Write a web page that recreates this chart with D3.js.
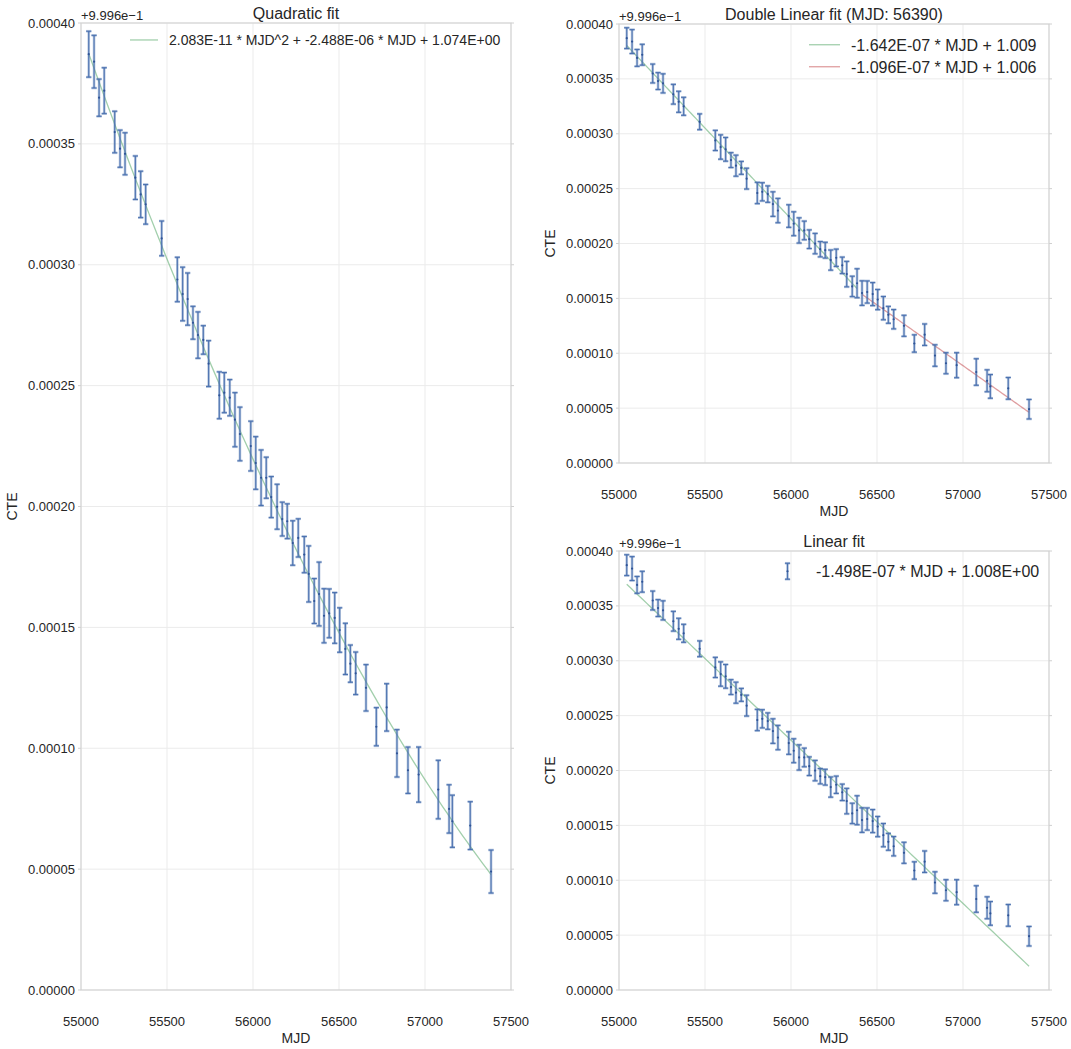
<!DOCTYPE html>
<html>
<head>
<meta charset="utf-8">
<script src="https://cdn.jsdelivr.net/npm/d3@7"></script>
<style>
  html, body { margin: 0; padding: 0; background: #ffffff; }
  svg { display: block; }
  text { font-family: "Liberation Sans", Arial, sans-serif; fill: #262626; }
</style>
</head>
<body>
<svg id="chart" width="1071" height="1049"></svg>
<script>
// ---- Data (CTE offsets relative to 0.9996, in units of 1e-5) ----
const mjd = [55045, 55076, 55105, 55135, 55196, 55227, 55256, 55316, 55347, 55376,
             55469, 55560, 55591, 55620, 55651, 55680, 55711, 55742, 55804, 55833,
             55865, 55895, 55924, 55987, 56016, 56047, 56077, 56106, 56140, 56170,
             56199, 56231, 56263, 56298, 56324, 56356, 56384, 56413, 56443, 56475,
             56504, 56537, 56566, 56597, 56657, 56717, 56777, 56837, 56901, 56963,
             57077, 57140, 57159, 57263, 57384];
const cteOffset = [38.71, 38.40, 36.91, 37.20, 35.49, 34.80, 34.59, 33.60, 32.91, 32.50,
                   31.09, 29.39, 28.79, 28.58, 27.60, 27.09, 26.89, 25.91, 24.60, 24.71,
                   24.50, 23.59, 23.00, 22.50, 21.80, 21.19, 21.19, 20.39, 19.99, 19.48,
                   19.39, 18.49, 18.70, 18.01, 17.21, 16.09, 16.38, 15.48, 15.58, 15.39,
                   14.89, 14.11, 13.50, 13.10, 12.50, 10.89, 11.69, 9.79, 9.09, 8.91,
                   8.29, 7.49, 6.98, 6.80, 4.90];
const cteErr = [0.95, 1.09, 0.77, 0.95, 0.86, 0.77, 0.87, 0.90, 0.96, 0.82,
                0.72, 0.92, 1.11, 1.08, 0.68, 0.96, 0.59, 0.95, 0.97, 0.83,
                0.75, 1.12, 1.11, 1.03, 1.09, 1.15, 0.85, 0.85, 0.93, 0.70,
                0.72, 0.92, 0.79, 0.75, 1.16, 0.93, 1.32, 1.12, 1.01, 1.05,
                0.92, 1.06, 0.77, 0.88, 0.96, 0.79, 0.98, 0.98, 0.96, 1.14,
                1.21, 1.00, 1.08, 0.99, 0.89];
const unitScale = 1e-5;
const offsetLabel = "+9.996e\u22121";
const breakMJD = 56390;
const xTicks = [55000, 55500, 56000, 56500, 57000, 57500];
const yTicks = [0, 0.00005, 0.0001, 0.00015, 0.0002, 0.00025, 0.0003, 0.00035, 0.0004];
const titles = ["Quadratic fit", "Double Linear fit (MJD: 56390)", "Linear fit"];
const legendQuad = ["2.083E-11 * MJD^2 + -2.488E-06 * MJD + 1.074E+00"];
const legendDouble = ["-1.642E-07 * MJD + 1.009", "-1.096E-07 * MJD + 1.006"];
const legendLinear = ["-1.498E-07 * MJD + 1.008E+00"];

const points = mjd.map((m, i) => ({ x: m, y: cteOffset[i] * unitScale, e: cteErr[i] * unitScale }));

// ---- Fitting helpers ----
function linFit(pts) {
  const mx = d3.mean(pts, p => p.x), my = d3.mean(pts, p => p.y);
  let sxy = 0, sxx = 0;
  pts.forEach(p => { sxy += (p.x - mx) * (p.y - my); sxx += (p.x - mx) * (p.x - mx); });
  const b = sxy / sxx;
  return x => my + b * (x - mx);
}
function quadFit(pts) {
  const c = 56000, s = 1000;
  const S = [0,0,0,0,0], T = [0,0,0];
  pts.forEach(p => {
    const t = (p.x - c) / s;
    for (let k = 0; k < 5; k++) S[k] += Math.pow(t, k);
    for (let k = 0; k < 3; k++) T[k] += p.y * Math.pow(t, k);
  });
  const A = [[S[0], S[1], S[2], T[0]], [S[1], S[2], S[3], T[1]], [S[2], S[3], S[4], T[2]]];
  for (let i = 0; i < 3; i++) {
    for (let j = i + 1; j < 3; j++) {
      const f = A[j][i] / A[i][i];
      for (let k = i; k < 4; k++) A[j][k] -= f * A[i][k];
    }
  }
  const coef = [0,0,0];
  for (let i = 2; i >= 0; i--) {
    let v = A[i][3];
    for (let k = i + 1; k < 3; k++) v -= A[i][k] * coef[k];
    coef[i] = v / A[i][i];
  }
  return x => { const t = (x - c) / s; return coef[0] + coef[1] * t + coef[2] * t * t; };
}

const svg = d3.select("#chart");
const GREEN = "#55a868", RED = "#c44e52", BLUE = "#4c72b0";

function drawPanel(cfg) {
  const { left, right, top, bottom } = cfg;
  const x = d3.scaleLinear().domain([55000, 57500]).range([left, right]);
  const y = d3.scaleLinear().domain([0, 0.0004]).range([bottom, top]);
  const g = svg.append("g");

  // grid
  g.selectAll(".gx").data(xTicks).enter().append("line")
    .attr("x1", d => x(d)).attr("x2", d => x(d)).attr("y1", top).attr("y2", bottom)
    .attr("stroke", "#ebebeb").attr("stroke-width", 1);
  g.selectAll(".gy").data(yTicks).enter().append("line")
    .attr("x1", left).attr("x2", right).attr("y1", d => y(d)).attr("y2", d => y(d))
    .attr("stroke", "#ebebeb").attr("stroke-width", 1);
  // small ticks on left and right spines
  g.selectAll(".tl").data(yTicks).enter().append("line")
    .attr("x1", left - 3).attr("x2", left).attr("y1", d => y(d)).attr("y2", d => y(d))
    .attr("stroke", "#d0d0d0");
  g.selectAll(".tr").data(yTicks).enter().append("line")
    .attr("x1", right).attr("x2", right + 3).attr("y1", d => y(d)).attr("y2", d => y(d))
    .attr("stroke", "#d0d0d0");
  // spines
  g.append("rect").attr("x", left).attr("y", top).attr("width", right - left).attr("height", bottom - top)
    .attr("fill", "none").attr("stroke", "#cfcfcf").attr("stroke-width", 1);

  // tick labels
  g.selectAll(".ylab").data(yTicks).enter().append("text")
    .attr("x", left - 6).attr("y", d => y(d)).attr("dy", "0.35em")
    .attr("text-anchor", "end").attr("font-size", 13)
    .text(d => d3.format(".5f")(d));
  g.selectAll(".xlab").data(xTicks).enter().append("text")
    .attr("x", d => x(d)).attr("y", bottom + 36)
    .attr("text-anchor", "middle").attr("font-size", 13)
    .text(d => d);

  // axis labels
  g.append("text").attr("x", (left + right) / 2).attr("y", bottom + 53)
    .attr("text-anchor", "middle").attr("font-size", 14).text("MJD");
  g.append("text").attr("transform", `translate(${left - 64},${(top + bottom) / 2}) rotate(-90)`)
    .attr("text-anchor", "middle").attr("font-size", 14).text("CTE");
  // title and offset
  g.append("text").attr("x", (left + right) / 2).attr("y", top - 4.5)
    .attr("text-anchor", "middle").attr("font-size", 16).text(cfg.title);
  g.append("text").attr("x", left).attr("y", top - 3)
    .attr("font-size", 13).text(offsetLabel);

  // fits
  const line = d3.line().x(d => x(d[0])).y(d => y(d[1]));
  cfg.fits.forEach(f => {
    const xs = d3.range(0, 101).map(i => f.x0 + (f.x1 - f.x0) * i / 100);
    g.append("path").attr("d", line(xs.map(v => [v, f.fn(v)])))
      .attr("fill", "none").attr("stroke", f.color).attr("stroke-opacity", 0.55).attr("stroke-width", 1.3);
  });

  // error bars
  const eb = g.append("g");
  function errbar(sel, cx, y0, y1, cy) {
    const cap = 2.6;
    [[BLUE, 0.4, 2.6], [BLUE, 1, 1.1]].forEach(([c, o, w]) => {
      sel.append("line").attr("x1", cx).attr("x2", cx).attr("y1", y0).attr("y2", y1)
        .attr("stroke", c).attr("stroke-opacity", o).attr("stroke-width", w);
      sel.append("line").attr("x1", cx - cap).attr("x2", cx + cap).attr("y1", y0).attr("y2", y0)
        .attr("stroke", c).attr("stroke-opacity", o).attr("stroke-width", w);
      sel.append("line").attr("x1", cx - cap).attr("x2", cx + cap).attr("y1", y1).attr("y2", y1)
        .attr("stroke", c).attr("stroke-opacity", o).attr("stroke-width", w);
    });
    sel.append("circle").attr("cx", cx).attr("cy", cy).attr("r", 1.1).attr("fill", "#2f5497");
  }
  points.forEach(p => errbar(eb, x(p.x), y(p.y + p.e), y(p.y - p.e), y(p.y)));

  // legend
  const L = cfg.legend;
  L.items.forEach((it, i) => {
    const by = top + L.dy + i * L.gap;
    if (it.type === "line") {
      g.append("line").attr("x1", left + L.lx0).attr("x2", left + L.lx1)
        .attr("y1", by - L.size * 0.36).attr("y2", by - L.size * 0.36)
        .attr("stroke", it.color).attr("stroke-opacity", 0.55).attr("stroke-width", 1.3);
    } else {
      const cx = left + (L.lx0 + L.lx1) / 2, cy = by - L.size * 0.36;
      errbar(g.append("g"), cx, cy - 8, cy + 8, cy);
    }
    g.append("text").attr("x", left + L.tx).attr("y", by).attr("font-size", L.size).text(it.label);
  });
}

// Panels
const allPts = points;
const q = quadFit(allPts);
const before = allPts.filter(p => p.x < breakMJD), after = allPts.filter(p => p.x >= breakMJD);
const l1 = linFit(before), l2 = linFit(after), l = linFit(allPts);
const xmin = d3.min(mjd), xmax = d3.max(mjd);

drawPanel({
  left: 81, right: 511, top: 23, bottom: 990, title: titles[0],
  fits: [{ fn: q, x0: xmin, x1: xmax, color: GREEN }],
  legend: { lx0: 49, lx1: 77, tx: 88, dy: 22, gap: 0, size: 14,
            items: [{ type: "line", color: GREEN, label: legendQuad[0] }] }
});
drawPanel({
  left: 619, right: 1049, top: 24, bottom: 463, title: titles[1],
  fits: [{ fn: l1, x0: d3.min(before, p => p.x), x1: d3.max(before, p => p.x), color: GREEN },
         { fn: l2, x0: d3.min(after, p => p.x), x1: d3.max(after, p => p.x), color: RED }],
  legend: { lx0: 190, lx1: 221, tx: 232, dy: 26.5, gap: 22, size: 16,
            items: [{ type: "line", color: GREEN, label: legendDouble[0] },
                    { type: "line", color: RED, label: legendDouble[1] }] }
});
drawPanel({
  left: 619, right: 1049, top: 551, bottom: 990, title: titles[2],
  fits: [{ fn: l, x0: xmin, x1: xmax, color: GREEN }],
  legend: { lx0: 168, lx1: 169, tx: 197, dy: 26, gap: 0, size: 16,
            items: [{ type: "errorbar", label: legendLinear[0] }] }
});
</script>
</body>
</html>
